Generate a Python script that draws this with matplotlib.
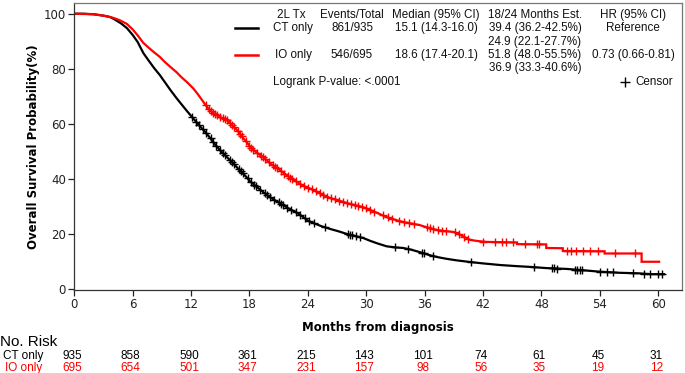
import numpy as np
import matplotlib
matplotlib.use("Agg")
import matplotlib.pyplot as plt
from matplotlib import font_manager
from matplotlib.lines import Line2D
from matplotlib.transforms import blended_transform_factory

# Kaplan-Meier knots (months, survival %)
ct_t = [0, 1, 2, 3, 3.7, 4.2, 4.8, 5.4, 6, 6.5, 7.1, 7.6, 8.2, 8.8, 9.3, 9.9,
        10.5, 11, 11.6, 12.2, 12.8, 13.4, 13.9, 14.5, 15.1, 15.7, 16.3, 17,
        17.7, 18, 18.6, 19.4, 20.2, 21.1, 22, 22.9, 23.5, 24, 24.6, 25.4, 26.3,
        27.2, 28, 28.9, 29.7, 30.4, 31.2, 32.1, 33, 33.8, 34.6, 35.5, 36.4,
        37.3, 38.2, 39.3, 40.7, 42, 43.8, 45.5, 47, 48.5, 50.6, 52, 54, 56, 58,
        59.3, 60.6]
ct_s = [100, 100, 99.8, 99.3, 98.8, 97.8, 96.5, 94.8, 92.3, 89.8, 85.7, 83.2,
        80.3, 77.7, 75.2, 72.2, 69.4, 67.2, 64.6, 62.1, 59.6, 57.3, 55.2, 52.4,
        50, 47.9, 45.8, 43.2, 40.7, 39.4, 37.6, 35.3, 33.2, 31.3, 29.4, 27.7,
        26.3, 24.9, 24, 22.9, 21.9, 21, 20.1, 19.3, 18.6, 17.6, 16.6, 15.6,
        15.2, 15, 14.4, 13.5, 12.5, 11.7, 11.1, 10.5, 9.9, 9.4, 8.8, 8.4, 8.1,
        7.7, 7.4, 7.0, 6.4, 6.0, 5.8, 5.5, 5.5]

io_t = [0, 2, 3, 4, 4.7, 5.4, 6, 6.5, 7.1, 7.6, 8.2, 8.8, 9.3, 9.9, 10.5, 11,
        11.6, 12.2, 12.7, 13.3, 13.9, 14.5, 15.1, 15.7, 16.3, 16.8, 17.2, 17.7,
        18, 18.6, 19.4, 20.2, 21.1, 22, 22.9, 23.5, 24, 24.6, 25.4, 26.3, 27.2,
        28, 28.9, 29.7, 30.4, 31.2, 32.1, 33, 33.8, 34.6, 35.5, 36.4, 37.3,
        38.2, 39, 39.8, 40.7, 41.5, 42.4, 45.5, 45.5, 48.5, 48.5, 50.2, 50.2,
        54.5, 54.5, 58.3, 58.3, 60.1]
io_s = [100, 99.8, 99.3, 98.5, 97.6, 96.3, 94.3, 92.2, 89.4, 87.8, 86, 84.3,
        82.5, 80.6, 78.8, 77, 75.1, 73, 70.8, 67.8, 65, 63.5, 62.3, 61.4, 59.3,
        57.5, 55.5, 53.5, 52, 50, 48, 45.5, 43.3, 41, 38.9, 37.6, 36.9, 36,
        34.5, 33.1, 32.2, 31.3, 30.5, 29.8, 28.8, 27.6, 26.2, 25.2, 24.4, 23.9,
        23.3, 22.3, 21.5, 21.1, 20.8, 19.5, 17.9, 17.5, 17.2, 17.0, 16.4, 16.3,
        15.0, 14.9, 13.9, 13.8, 13.0, 13.0, 10.0, 10.0]

# censoring times (months)
ct_cens = [12.1, 12.5, 12.8, 13.2, 13.5, 14.0, 14.3, 14.6, 15.0, 15.3, 15.5,
           16.0, 16.2, 16.4, 16.9, 17.1, 17.3, 17.8, 18.2, 18.5, 18.7, 19.1,
           19.6, 19.8, 20.1, 20.5, 21.0, 21.2, 21.4, 21.9, 22.3, 22.8, 23.2,
           23.7, 24.1, 24.6, 25.8, 28.1, 28.3, 28.5, 28.9, 29.4, 33.0, 34.3,
           35.7, 35.9, 36.9, 40.8, 47.2, 49.1, 49.3, 49.6, 51.5, 51.7, 52.0,
           52.2, 54.0, 54.7, 55.4, 57.4, 58.5, 59.2, 60.0, 60.4]
io_cens = [13.5, 13.8, 14.0, 14.3, 14.5, 14.7, 15.0, 15.3, 15.5, 15.7, 16.0,
           16.2, 16.4, 16.8, 17.0, 17.2, 17.6, 18.0, 18.2, 18.4, 18.8, 19.2,
           19.4, 19.6, 20.0, 20.4, 20.6, 20.8, 21.2, 21.6, 22.0, 22.2, 22.4,
           22.8, 23.2, 23.6, 24.0, 24.4, 24.8, 25.2, 25.6, 26.0, 26.4, 26.8,
           27.2, 27.6, 28.0, 28.4, 28.8, 29.2, 29.6, 30.0, 30.4, 30.8, 31.7,
           32.2, 32.7, 33.4, 33.9, 34.4, 34.9, 36.2, 36.6, 36.9, 37.4, 37.8,
           38.2, 39.1, 39.5, 40.0, 40.5, 42.0, 43.2, 44.0, 44.4, 45.1, 46.3,
           47.5, 47.8, 50.6, 51.0, 51.6, 52.3, 53.0, 53.8, 55.6, 57.6]

risk_times = [0, 6, 12, 18, 24, 30, 36, 42, 48, 54, 60]
ct_risk = [935, 858, 590, 361, 215, 143, 101, 74, 61, 45, 31]
io_risk = [695, 654, 501, 347, 231, 157, 98, 56, 35, 19, 12]

header = ["2L Tx", "Events/Total", "Median (95% CI)", "18/24 Months Est.", "HR (95% CI)"]
ct_row = ["CT only", "861/935", "15.1 (14.3-16.0)", "39.4 (36.2-42.5%)", "Reference"]
ct_row2 = "24.9 (22.1-27.7%)"
io_row = ["IO only", "546/695", "18.6 (17.4-20.1)", "51.8 (48.0-55.5%)", "0.73 (0.66-0.81)"]
io_row2 = "36.9 (33.3-40.6%)"

W, H = 685, 373
fig = plt.figure(figsize=(W / 100, H / 100), dpi=100)
ax = fig.add_axes([74.3 / W, 1 - 290 / H, (681.5 - 74.3) / W, (290 - 2.7) / H])


def px(x, y):
    return x / W, 1 - y / H


def curve_at(t, s, c):
    # survival value at a censor time, taken from the drawn line
    return np.interp(c, t, s)


for t, s, cens, col in [(ct_t, ct_s, ct_cens, "black"), (io_t, io_s, io_cens, "#ff0000")]:
    ax.plot(t, s, color=col, lw=1.6, solid_joinstyle="miter")
    ax.plot(cens, curve_at(t, s, cens), ls="none", marker="+", ms=6, mew=1.0, color=col)

ax.set_xlim(0, 62.4)
ax.set_ylim(-0.25, 104)
ax.set_xticks(risk_times)
ax.set_yticks([0, 20, 40, 60, 80, 100])
ax.tick_params(direction="out", length=4, width=0.9, labelsize=8.5, pad=2, colors="#222222")
for sp in ax.spines.values():
    sp.set_linewidth(0.9)
    sp.set_color("#333333")
ax.spines["top"].set_color("#777777")
ax.spines["right"].set_color("#777777")

ax.set_xlabel("Months from diagnosis", fontsize=8.5, fontweight="bold", labelpad=7)
ax.set_ylabel("Overall Survival Probability(%)", fontsize=8.5, fontweight="bold", labelpad=3)

# legend table
lf = dict(family="Liberation Sans", fontsize=8.4, color="#111111", va="center")
cols = [291, 352, 436, 535, 633]
for x, h in zip(cols, header):
    fig.text(*px(x, 15), h, ha="center", **lf)
fig.text(*px(273, 28), ct_row[0], ha="left", **lf)
fig.text(*px(275, 55), io_row[0], ha="left", **lf)
for x, a, b in zip(cols[1:], ct_row[1:], io_row[1:]):
    fig.text(*px(x, 28), a, ha="center", **lf)
    fig.text(*px(x, 55), b, ha="center", **lf)
fig.text(*px(cols[3], 42), ct_row2, ha="center", **lf)
fig.text(*px(cols[3], 68), io_row2, ha="center", **lf)
fig.text(*px(273, 82), "Logrank P-value: <.0001", ha="left", **lf)
fig.text(*px(635, 82), "Censor", ha="left", **lf)
fig.lines.append(Line2D([625 / W], [1 - 82 / H], marker="+", ms=7, mew=1.0, color="black",
                        transform=fig.transFigure))
for y, col in [(28, "black"), (55, "#ff0000")]:
    fig.lines.append(Line2D([235 / W, 258 / W], [1 - y / H, 1 - y / H], lw=1.8, color=col,
                            transform=fig.transFigure))

# number at risk table
names = {f.name for f in font_manager.fontManager.ttflist}
if "Liberation Sans Narrow" in names:
    rf = dict(family="Liberation Sans Narrow", fontsize=10)
    big = 13
else:
    rf = dict(family="Liberation Sans", fontsize=8.5)
    big = 11
tr = blended_transform_factory(ax.transData, fig.transFigure)
fig.text(*px(0, 342), "No. Risk", ha="left", va="center", fontsize=big, family=rf["family"])
fig.text(*px(3, 356), "CT only", ha="left", va="center", color="black", **rf)
fig.text(*px(5, 368), "IO only", ha="left", va="center", color="#ff0000", **rf)
for xt, a, b in zip(risk_times, ct_risk, io_risk):
    ax.text(xt - 0.2, 1 - 356 / H, str(a), transform=tr, ha="center", va="center", color="black", **rf)
    ax.text(xt - 0.2, 1 - 368 / H, str(b), transform=tr, ha="center", va="center", color="#ff0000", **rf)

fig.savefig("out.png", dpi=100)
